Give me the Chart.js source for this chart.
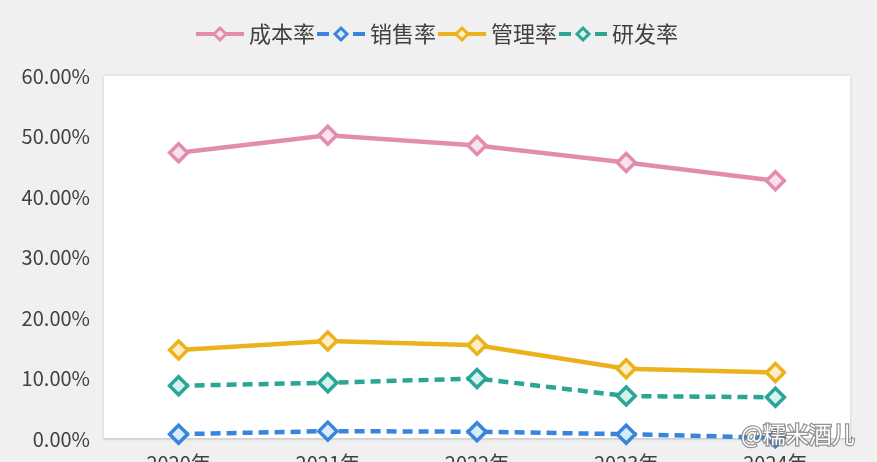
<!DOCTYPE html>
<html>
<head>
<meta charset="utf-8">
<script src="https://cdn.jsdelivr.net/npm/chart.js@4.4.1/dist/chart.umd.min.js"></script>
<style>
  html, body { margin: 0; padding: 0; background: #f0f0f0; overflow: hidden; }
  .chart-wrap { width: 877px; height: 490px; position: relative; }
</style>
</head>
<body>
<div class="chart-wrap"><canvas id="rate-chart"></canvas></div>
<script>
// data (percent)
const years = ["2020年", "2021年", "2022年", "2023年", "2024年"];
const costRate = [47.3, 50.2, 48.5, 45.7, 42.7];
const salesRate = [0.8, 1.3, 1.2, 0.8, 0.2];
const mgmtRate = [14.7, 16.2, 15.5, 11.6, 11.0];
const rdRate = [8.8, 9.3, 10.0, 7.1, 6.9];
const seriesNames = ["成本率", "销售率", "管理率", "研发率"];
const yMin = 0, yMax = 60, yStep = 10;

const FONT = "'Noto Sans CJK SC', 'Noto Sans', sans-serif";
const TEXT = "#404040";

const styles = [
  { color: "#e28db0", fill: "#f7e3ec", dash: [] },
  { color: "#3a84dc", fill: "#d7ebf8", dash: [10, 6] },
  { color: "#ecb21c", fill: "#fcefc6", dash: [] },
  { color: "#2ba595", fill: "#d3f3ef", dash: [10, 6] },
];

// legend icon: short line with a diamond in the middle
function legendIcon(st) {
  const c = document.createElement("canvas");
  c.width = 48; c.height = 20;
  const g = c.getContext("2d");
  g.strokeStyle = st.color;
  g.lineWidth = 4;
  g.beginPath();
  if (st.dash.length) {
    g.moveTo(0, 10); g.lineTo(12, 10);
    g.moveTo(36, 10); g.lineTo(48, 10);
  } else {
    g.moveTo(0, 10); g.lineTo(48, 10);
  }
  g.stroke();
  g.beginPath();
  g.moveTo(24 - 6, 10); g.lineTo(24, 4); g.lineTo(24 + 6, 10); g.lineTo(24, 16);
  g.closePath();
  g.fillStyle = st.fill;
  g.fill();
  g.lineWidth = 3;
  g.stroke();
  return c;
}
const icons = styles.map(legendIcon);

// white plot area on the grey page
const plotBg = {
  id: "plotBg",
  beforeDraw(chart) {
    const { ctx, chartArea: a } = chart;
    ctx.save();
    ctx.shadowColor = "rgba(0,0,0,0.15)";
    ctx.shadowBlur = 3;
    ctx.fillStyle = "#ffffff";
    ctx.fillRect(a.left, a.top, a.right - a.left, a.bottom - a.top);
    ctx.restore();
  }
};

// extra room under the legend, and nudge it to the page centre
const legendGap = {
  id: "legendGap",
  beforeLayout(chart) {
    const lg = chart.legend;
    if (lg && !lg._gapPatched) {
      const fit = lg.fit;
      lg.fit = function () { fit.call(this); this.height += 18; };
      const draw = lg.draw;
      lg.draw = function () {
        const c = this.ctx;
        c.save();
        c.translate(15, -3);
        draw.call(this);
        c.restore();
      };
      lg._gapPatched = true;
    }
  }
};

const watermark = {
  id: "watermark",
  afterDraw(chart) {
    const ctx = chart.ctx;
    ctx.save();
    ctx.font = "23px " + FONT;
    ctx.textBaseline = "middle";
    ctx.lineWidth = 2.5;
    ctx.strokeStyle = "rgba(120,120,120,0.8)";
    ctx.fillStyle = "#ffffff";
    ctx.strokeText("@糯米酒儿", 741, 434);
    ctx.fillText("@糯米酒儿", 741, 434);
    ctx.restore();
  }
};

const sets = [costRate, salesRate, mgmtRate, rdRate];

new Chart(document.getElementById("rate-chart"), {
  type: "line",
  data: {
    labels: years,
    datasets: sets.map((d, i) => ({
      label: seriesNames[i],
      data: d,
      borderColor: styles[i].color,
      backgroundColor: styles[i].fill,
      borderWidth: 4.5,
      borderDash: styles[i].dash,
      pointStyle: "rectRot",
      pointRadius: 9,
      pointBorderWidth: 3.5,
      pointBackgroundColor: styles[i].fill,
      pointBorderColor: styles[i].color,
      tension: 0,
      clip: false,
    })),
  },
  options: {
    responsive: true,
    maintainAspectRatio: false,
    animation: false,
    layout: { padding: { top: 18, right: 27, left: 0, bottom: 0 } },
    plugins: {
      legend: {
        position: "top",
        labels: {
          usePointStyle: true,
          pointStyleWidth: 36,
          padding: 8,
          color: TEXT,
          font: { size: 22, family: FONT },
          generateLabels(chart) {
            return Chart.defaults.plugins.legend.labels.generateLabels(chart).map((item, i) => {
              item.pointStyle = icons[i];
              return item;
            });
          },
        },
      },
      tooltip: { enabled: false },
    },
    scales: {
      x: {
        offset: true,
        grid: { display: false, drawTicks: false },
        border: { color: "#d2d2d2", width: 1.5 },
        ticks: { color: TEXT, font: { size: 20, family: FONT }, padding: 12 },
        afterFit(s) { s.height = 51; },
      },
      y: {
        min: yMin,
        max: yMax,
        grid: { display: false, drawTicks: false },
        border: { display: false },
        ticks: {
          stepSize: yStep,
          color: TEXT,
          font: { size: 20, family: FONT },
          padding: 14,
          callback: v => v.toFixed(2) + "%",
        },
        afterFit(s) { s.width = 104; },
      },
    },
  },
  plugins: [plotBg, legendGap, watermark],
});
</script>
</body>
</html>
